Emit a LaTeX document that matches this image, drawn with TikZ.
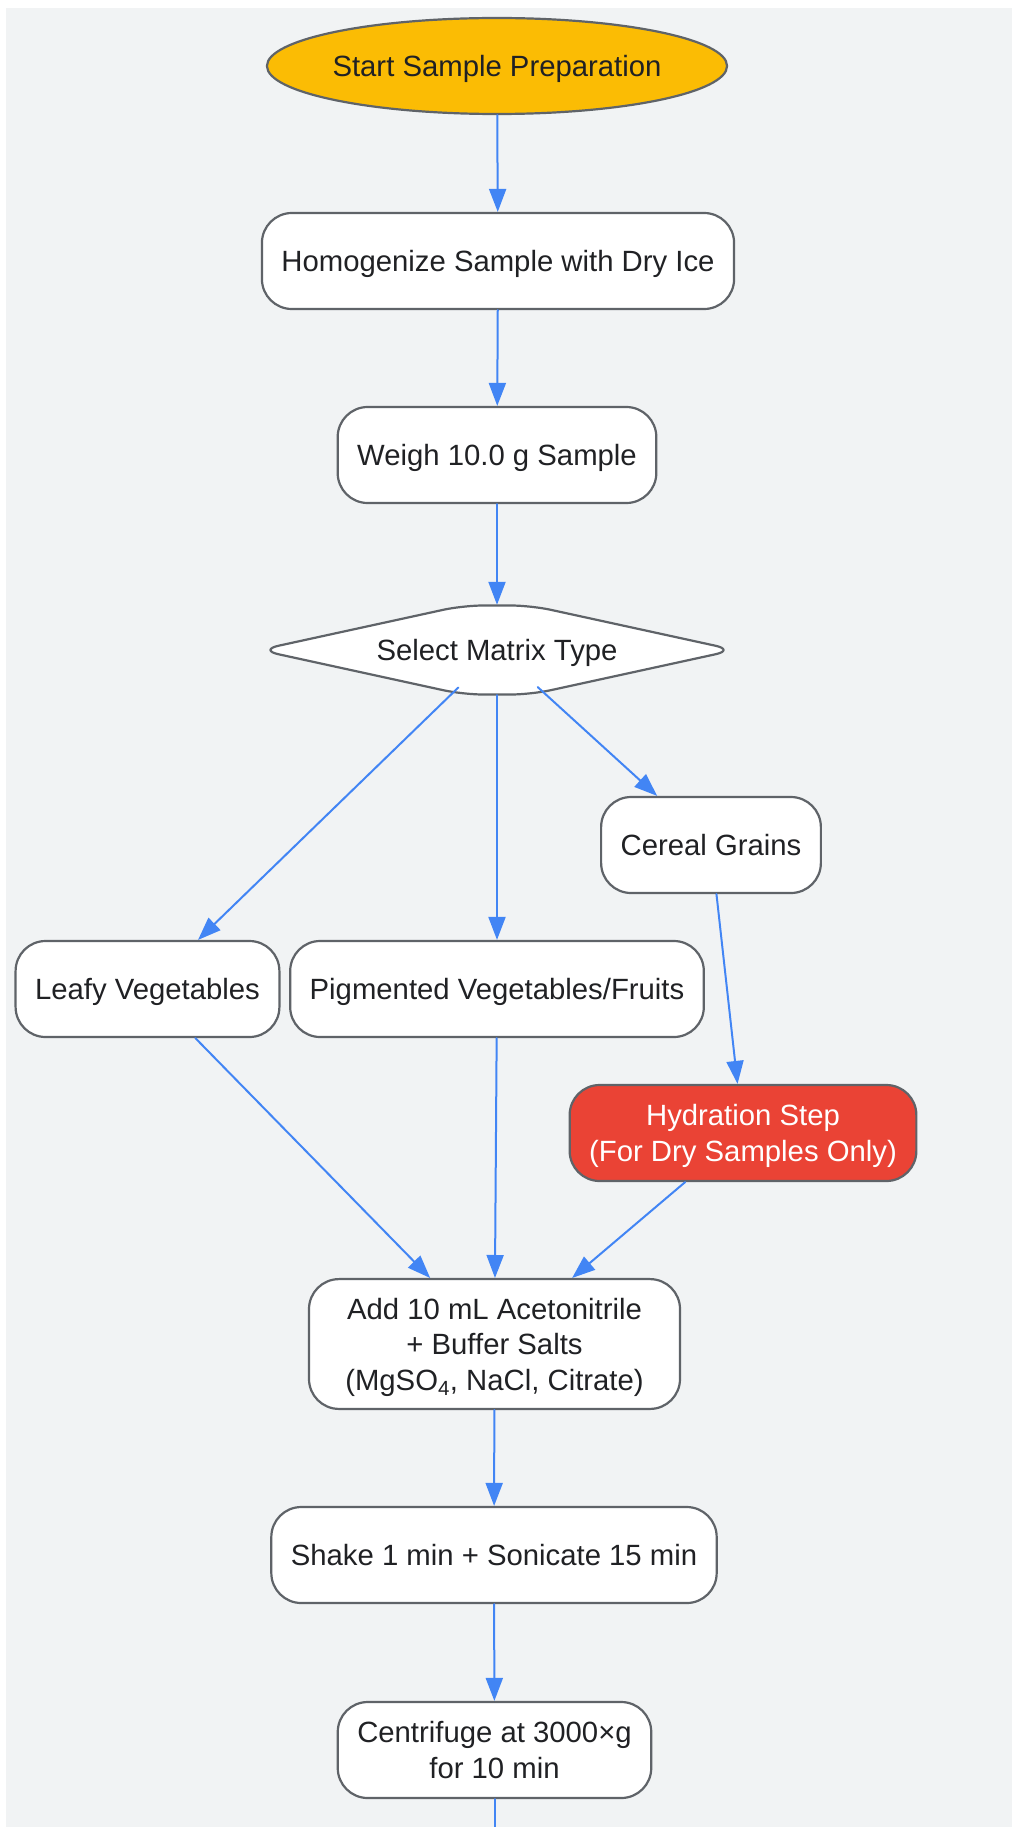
\documentclass[tikz,border=0pt]{standalone}
\usepackage{fontspec}
\setmainfont{Liberation Sans}
\usetikzlibrary{shapes.geometric,arrows.meta}
\definecolor{pagebg}{HTML}{F1F3F4}
\definecolor{rimgray}{HTML}{5F6368}
\definecolor{ink}{HTML}{202124}
\definecolor{flowblue}{HTML}{4285F4}
\definecolor{startgold}{HTML}{FBBC04}
\definecolor{alertred}{HTML}{EA4335}
\newcommand{\nodepth}[1]{\raisebox{0pt}[\height][0pt]{#1}}
\begin{document}
\begin{tikzpicture}[x=1pt,y=-1pt, line join=round, line cap=round,
	font=\fontsize{29.3}{35.5}\selectfont,
	box/.style={draw=rimgray, line width=2.2pt, fill=white, text=ink, rounded corners=30pt,
		inner xsep=19.5pt, inner ysep=18.8pt, minimum height=96pt, align=center},
	oneline/.style={text height=21.5pt, text depth=0pt},
	startnode/.style={box, oneline, ellipse, fill=startgold, inner xsep=-1.8pt, minimum width=460pt},
	decide/.style={diamond, oneline, text=ink, aspect=5, inner sep=1pt,
		minimum width=454pt, minimum height=90pt},
	alertbox/.style={box, fill=alertred, text=white},
	flow/.style={draw=flowblue, line width=2pt, -{Triangle[length=23pt,width=17pt]}}]
	\useasboundingbox (0,0) rectangle (1012,1827);
	\fill[pagebg] (6,8) rectangle (1012,1827);
	%steps of the preparation
	\node[startnode] (start) at (497,66) {Start Sample Preparation};
	\node[box, oneline] (homog) at (498,261) {Homogenize Sample with Dry Ice};
	\node[box, oneline] (weigh) at (497,455) {Weigh 10.0 g Sample};
	%outline of the decision, flat at top and bottom
	\filldraw[draw=rimgray, fill=white, line width=2.2pt, rounded corners=20pt]
	(259,650) -- (463,605.5) -- (531,605.5) -- (735,650) -- (531,694.5) -- (463,694.5) -- cycle;
	\node[decide] (matrix) at (497,650) {Select Matrix Type};
	\node[box, oneline] (cereal) at (711,845) {Cereal Grains};
	\node[box, oneline] (leafy) at (147.5,989) {Leafy Vegetables};
	\node[box, oneline] (pigment) at (497,989) {Pigmented Vegetables/Fruits};
	\node[alertbox] (hydrate) at (743,1133) {Hydration Step\\\nodepth{(For Dry Samples Only)}};
	\node[box, minimum width=371pt] (extract) at (494.5,1344)
	{Add 10 mL Acetonitrile\\+ Buffer Salts\\\nodepth{(MgSO\textsubscript{4}, NaCl, Citrate)}};
	\node[box, oneline] (shake) at (494,1555) {Shake 1 min + Sonicate 15 min};
	\node[box] (spin) at (494.5,1750) {Centrifuge at 3000×g\\for 10 min};
	\coordinate (next) at (494.5,1827);
	%connectors
	\foreach \a/\b in {start/homog, homog/weigh, weigh/matrix, matrix/leafy, matrix/pigment,
		matrix/cereal, cereal/hydrate, leafy/extract, pigment/extract, hydrate/extract,
		extract/shake, shake/spin}
	\draw[flow] (\a) -- (\b);
	\draw[draw=flowblue, line width=2pt] (spin) -- (next);
\end{tikzpicture}
\end{document}
